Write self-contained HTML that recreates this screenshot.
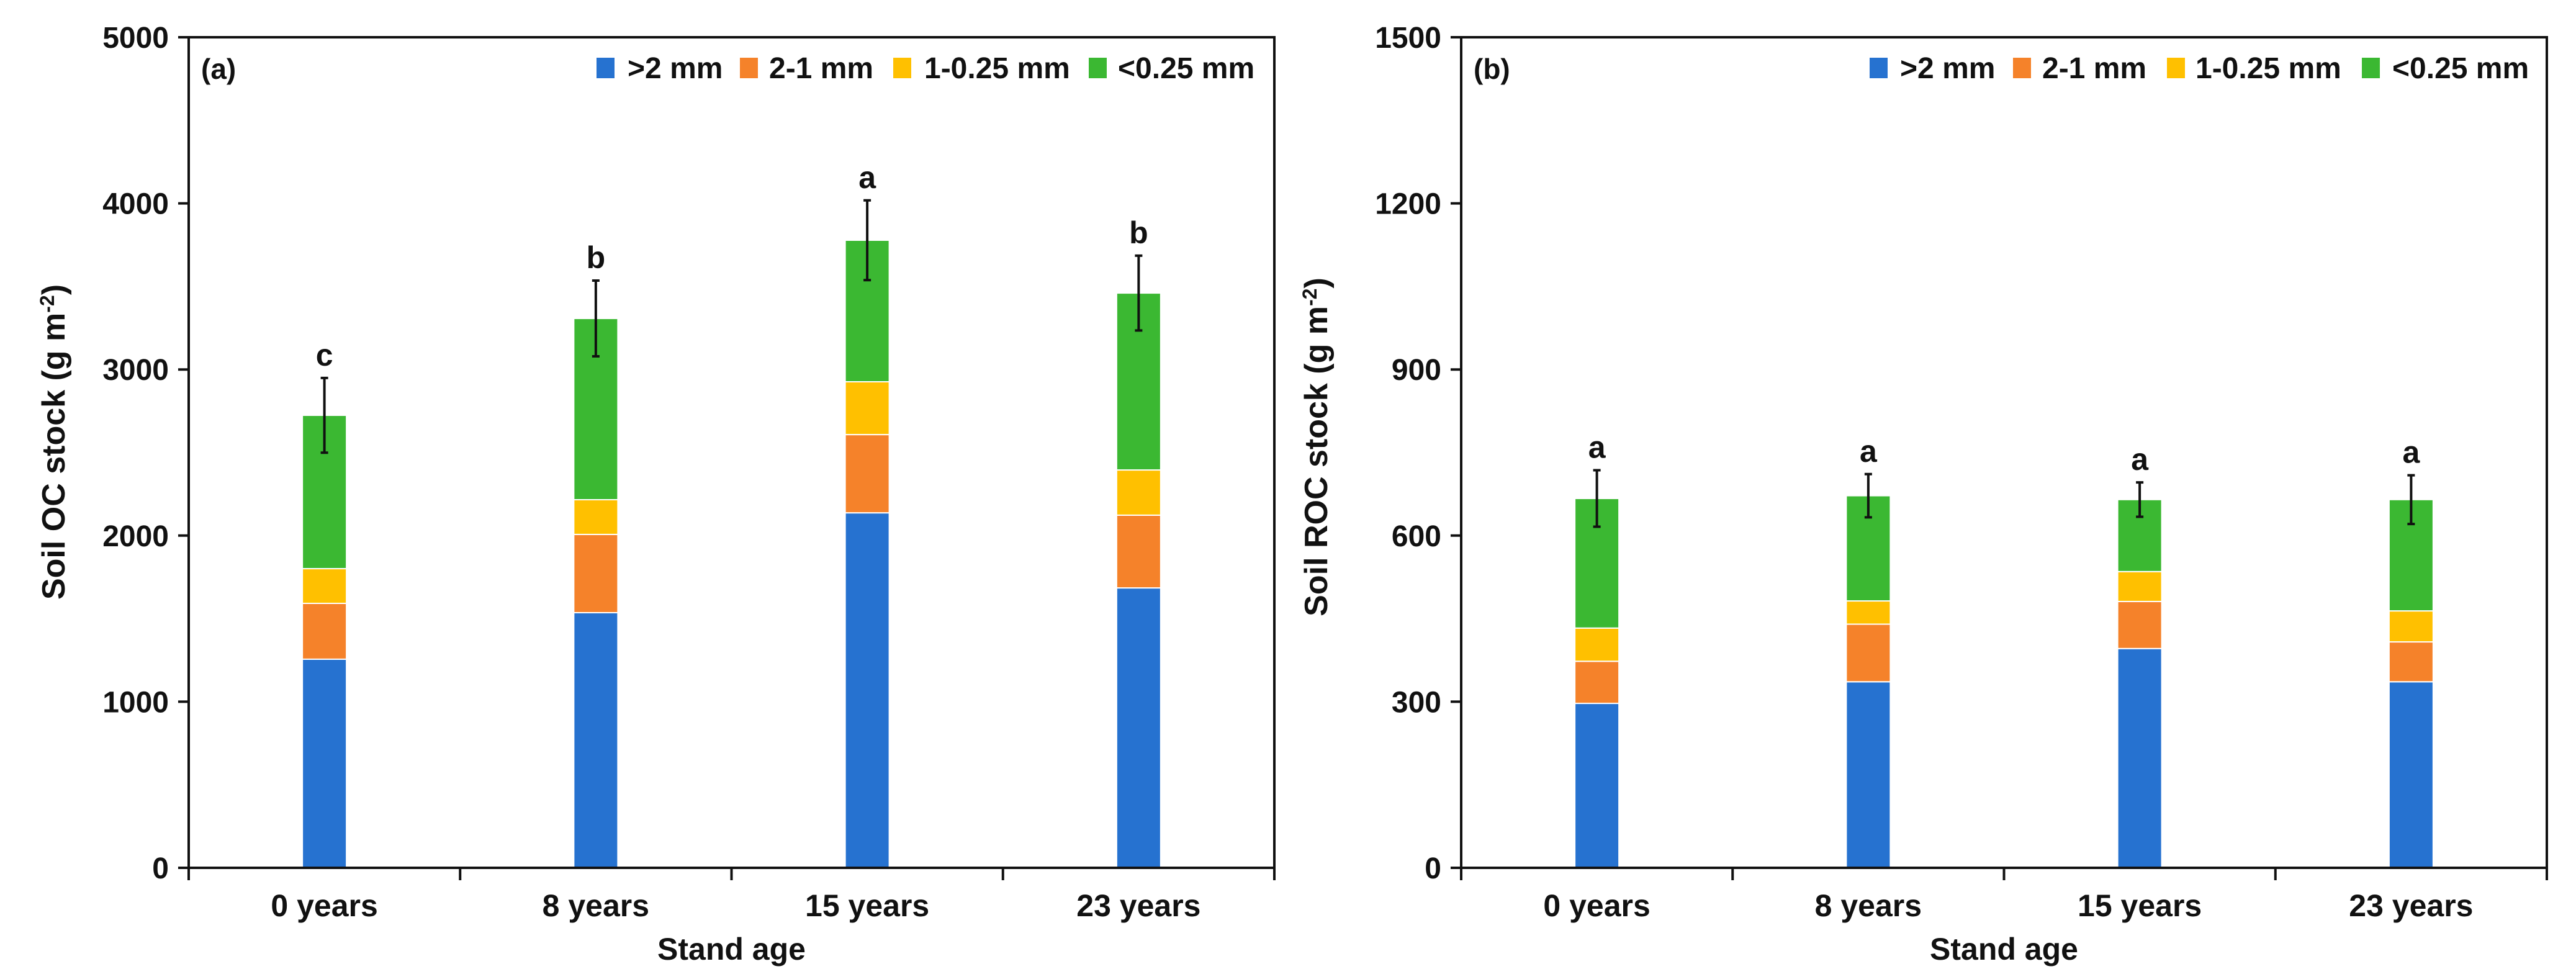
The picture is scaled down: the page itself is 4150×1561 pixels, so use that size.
<!DOCTYPE html>
<html><head><meta charset="utf-8"><style>
html,body{margin:0;padding:0;background:#fff;width:4150px;height:1561px;overflow:hidden}
svg{display:block}
text{font-family:"Liberation Sans Narrow","Liberation Sans",sans-serif;font-weight:bold;fill:#111}
</style></head><body>
<svg id="chart" width="4150" height="1561" viewBox="0 0 4150 1561" xmlns="http://www.w3.org/2000/svg"></svg>
<script>
const categories = ["0 years","8 years","15 years","23 years"];
const seriesNames = [">2 mm","2-1 mm","1-0.25 mm","<0.25 mm"];
const aBlue = [1256,1536,2137,1685];
const aOrange = [336,471,471,438];
const aYellow = [209,209,318,272];
const aGreen = [923,1091,852,1065];
const aErr = [225,228,240,225];
const aLetters = ["c","b","a","b"];
const aTicks = [0,1000,2000,3000,4000,5000];
const bBlue = [297,336,396,336];
const bOrange = [76,104,85,72];
const bYellow = [60,42,54,56];
const bGreen = [234,190,130,201];
const bErr = [51,39,31,44];
const bLetters = ["a","a","a","a"];
const bTicks = [0,300,600,900,1200,1500];
const colors = ["#2672d0","#f5822a","#ffc000","#3bb832"];
const NS = "http://www.w3.org/2000/svg";
const svg = document.getElementById("chart");
function mk(tag, attrs, parent){const e=document.createElementNS(NS,tag);for(const k in attrs)e.setAttribute(k,attrs[k]);(parent||svg).appendChild(e);return e;}

function panel(p){
  const g = mk("g",{});
  
  
  const L=p.left,R=p.right,T=60,B=1398;
  const yMax=p.ticks[p.ticks.length-1];
  const y=v=>B-(v/yMax)*(B-T);
  const step=(R-L)/categories.length;
  const x=i=>L+step*(i+0.5);
  const bw=71;
  const series=[p.blue,p.orange,p.yellow,p.green];
  categories.forEach((c,i)=>{
    let cum=0;
    series.forEach((s,k)=>{
      const r=mk("rect",{x:x(i)-bw/2,y:y(cum+s[i]),width:bw,height:y(cum)-y(cum+s[i]),fill:colors[k],stroke:"#fff","stroke-width":2},g);
      
      
      cum+=s[i];
    });
    const top=cum+p.err[i], bot=cum-p.err[i];
    const eb=mk("path",{d:`M${x(i)},${y(top)}V${y(bot)}M${x(i)-6},${y(top)}H${x(i)+6}M${x(i)-6},${y(bot)}H${x(i)+6}`,stroke:"#111","stroke-width":4,fill:"none"},g);
    
    
    const lt=mk("text",{x:x(i),y:y(top)-20,"text-anchor":"middle","font-size":50},g);
    lt.textContent=p.letters[i];
    
    
    const cl=mk("text",{x:x(i),y:1476,"text-anchor":"middle","font-size":50},g);
    cl.textContent=c;
    
    
  });
  const fr=mk("rect",{x:L,y:T,width:R-L,height:B-T,fill:"none",stroke:"#111","stroke-width":4},g);
  
  
  p.ticks.forEach(t=>{
    mk("line",{x1:L-17,x2:L,y1:y(t),y2:y(t),stroke:"#111","stroke-width":4},g);
    const tl=mk("text",{x:L-32,y:y(t)+17,"text-anchor":"end","font-size":48},g);
    tl.textContent=t;
    
    
  });
  for(let i=0;i<=categories.length;i++){
    mk("line",{x1:L+step*i,x2:L+step*i,y1:B,y2:B+20,stroke:"#111","stroke-width":4},g);
  }
  const xt=mk("text",{x:(L+R)/2,y:1546,"text-anchor":"middle","font-size":50},g);
  xt.textContent="Stand age";
  
  
  const yt=mk("text",{transform:`translate(${p.ytX},${p.ytY}) rotate(-90)`,"text-anchor":"middle","font-size":52,style:"font-family:'Liberation Sans',sans-serif"},g);
  yt.innerHTML=p.ytitle+' (g m<tspan dy="-17" font-size="32">-2</tspan><tspan dy="17">)</tspan>';
  
  
  const pl=mk("text",{x:L+20,y:127,"font-size":46},g);
  pl.textContent=p.label;
  
  
  seriesNames.forEach((n,k)=>{
    const lg=mk("g",{},g);
    
    
    mk("rect",{x:p.legSq[k],y:93,width:29,height:33,fill:colors[k]},lg);
    const tx=mk("text",{x:p.legTx[k],y:126,"font-size":48},lg);
    tx.textContent=n;
  });
}
panel({name:"panel-a",left:304,right:2053,ticks:aTicks,blue:aBlue,orange:aOrange,yellow:aYellow,green:aGreen,err:aErr,letters:aLetters,ytitle:"Soil OC stock",ytX:104,ytY:712,label:"(a)",legSq:[961,1192,1439,1754],legTx:[1011,1239,1489,1801]});
panel({name:"panel-b",left:2354,right:4103,ticks:bTicks,blue:bBlue,orange:bOrange,yellow:bYellow,green:bGreen,err:bErr,letters:bLetters,ytitle:"Soil ROC stock",ytX:2138,ytY:720,label:"(b)",legSq:[3012,3243,3491,3805],legTx:[3061,3290,3537,3854]});
</script>
</body></html>
